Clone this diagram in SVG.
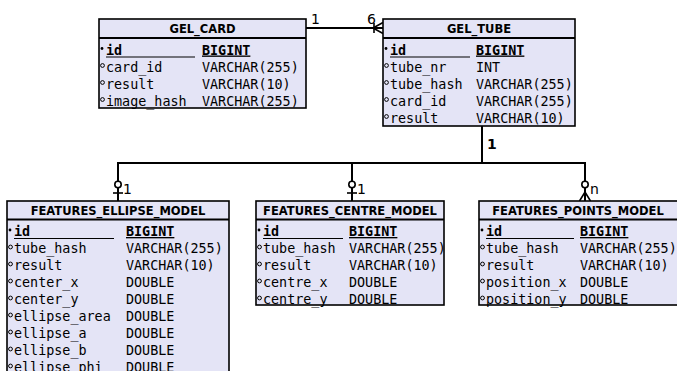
<svg xmlns="http://www.w3.org/2000/svg" width="677" height="371" viewBox="0 0 677 371">
<style>
.box{fill:#E4E4F6;stroke:#000;stroke-width:1.6}
.sep{stroke:#000;stroke-width:2}
.title{font-family:"DejaVu Sans",sans-serif;font-weight:bold;font-size:11.5px;text-anchor:middle;fill:#000}
.row{font-family:"DejaVu Sans Mono",monospace;font-size:13.4px;fill:#000}
.pk{font-weight:bold}
.ul{stroke:#000;stroke-width:1.2}
.pkm{fill:#000}
.fm{fill:none;stroke:#000;stroke-width:1}
.ln{stroke:#000;stroke-width:2;fill:none}
.sym{stroke:#000;stroke-width:1.6;fill:none}
.lbl{font-family:"DejaVu Sans",sans-serif;font-size:14px;fill:#000}
</style>
<g id="connectors">
  <line class="ln" x1="306" y1="28" x2="383" y2="28"/>
  <line class="sym" x1="374" y1="23" x2="374" y2="33"/>
  <polyline class="sym" points="383,22.5 373,28 383,33.5"/>
  <text class="lbl" x="311" y="24">1</text>
  <text class="lbl" x="367" y="24">6</text>
  <polyline class="ln" points="482,126 482,163 118,163 118,201"/>
  <line class="ln" x1="352" y1="163" x2="352" y2="201"/>
  <polyline class="ln" points="482,163 585,163 585,201"/>
  <text class="lbl" x="487" y="149" font-weight="bold">1</text>
  <circle cx="118" cy="184.5" r="3.2" fill="#fff" stroke="#000" stroke-width="1.6"/>
  <line class="sym" x1="113" y1="193" x2="123" y2="193"/>
  <text class="lbl" x="123" y="194">1</text>
  <circle cx="352" cy="184.5" r="3.2" fill="#fff" stroke="#000" stroke-width="1.6"/>
  <line class="sym" x1="347" y1="193" x2="357" y2="193"/>
  <text class="lbl" x="357" y="194">1</text>
  <circle cx="585" cy="184.5" r="3.2" fill="#fff" stroke="#000" stroke-width="1.6"/>
  <polyline class="sym" points="579.5,201 585,192 590.5,201"/>
  <text class="lbl" x="590" y="194">n</text>
</g>
<g id="gel_card">
  <rect class="box" x="99" y="19" width="207" height="89"/>
  <line class="sep" x1="99" y1="38" x2="306" y2="38"/>
  <text class="title" x="202.5" y="32.5">GEL_CARD</text>
  <circle class="pkm" cx="102" cy="48.5" r="1.4"/>
  <text class="row pk" x="106" y="54.5">id</text>
  <line class="ul" x1="106" y1="57" x2="195" y2="57"/>
  <text class="row pk" x="202" y="54.5" text-decoration="underline">BIGINT</text>
  <circle class="fm" cx="102.5" cy="65.5" r="1.9"/>
  <text class="row" x="106" y="71.5">card_id</text><text class="row" x="202" y="71.5">VARCHAR(255)</text>
  <circle class="fm" cx="102.5" cy="82.5" r="1.9"/>
  <text class="row" x="106" y="88.5">result</text><text class="row" x="202" y="88.5">VARCHAR(10)</text>
  <circle class="fm" cx="102.5" cy="99.5" r="1.9"/>
  <text class="row" x="106" y="105.5">image_hash</text><text class="row" x="202" y="105.5">VARCHAR(255)</text>
</g>
<g id="gel_tube">
  <rect class="box" x="383" y="19" width="192" height="107"/>
  <line class="sep" x1="383" y1="38" x2="575" y2="38"/>
  <text class="title" x="479" y="32.5">GEL_TUBE</text>
  <circle class="pkm" cx="386" cy="48.5" r="1.4"/>
  <text class="row pk" x="390" y="54.5">id</text>
  <line class="ul" x1="390" y1="57" x2="470" y2="57"/>
  <text class="row pk" x="476" y="54.5" text-decoration="underline">BIGINT</text>
  <circle class="fm" cx="386.5" cy="65.5" r="1.9"/>
  <text class="row" x="390" y="71.5">tube_nr</text><text class="row" x="476" y="71.5">INT</text>
  <circle class="fm" cx="386.5" cy="82.5" r="1.9"/>
  <text class="row" x="390" y="88.5">tube_hash</text><text class="row" x="476" y="88.5">VARCHAR(255)</text>
  <circle class="fm" cx="386.5" cy="99.5" r="1.9"/>
  <text class="row" x="390" y="105.5">card_id</text><text class="row" x="476" y="105.5">VARCHAR(255)</text>
  <circle class="fm" cx="386.5" cy="116.5" r="1.9"/>
  <text class="row" x="390" y="122.5">result</text><text class="row" x="476" y="122.5">VARCHAR(10)</text>
</g>
<g id="features_ellipse_model">
  <rect class="box" x="7" y="201" width="222" height="190"/>
  <line class="sep" x1="7" y1="219.5" x2="229" y2="219.5"/>
  <text class="title" x="118" y="214.5">FEATURES_ELLIPSE_MODEL</text>
  <circle class="pkm" cx="10" cy="230" r="1.4"/>
  <text class="row pk" x="14" y="236">id</text>
  <line class="ul" x1="14" y1="238.5" x2="114" y2="238.5"/>
  <text class="row pk" x="126" y="236" text-decoration="underline">BIGINT</text>
  <circle class="fm" cx="10.5" cy="247" r="1.9"/>
  <text class="row" x="14" y="253">tube_hash</text><text class="row" x="126" y="253">VARCHAR(255)</text>
  <circle class="fm" cx="10.5" cy="264" r="1.9"/>
  <text class="row" x="14" y="270">result</text><text class="row" x="126" y="270">VARCHAR(10)</text>
  <circle class="fm" cx="10.5" cy="281" r="1.9"/>
  <text class="row" x="14" y="287">center_x</text><text class="row" x="126" y="287">DOUBLE</text>
  <circle class="fm" cx="10.5" cy="298" r="1.9"/>
  <text class="row" x="14" y="304">center_y</text><text class="row" x="126" y="304">DOUBLE</text>
  <circle class="fm" cx="10.5" cy="315" r="1.9"/>
  <text class="row" x="14" y="321">ellipse_area</text><text class="row" x="126" y="321">DOUBLE</text>
  <circle class="fm" cx="10.5" cy="332" r="1.9"/>
  <text class="row" x="14" y="338">ellipse_a</text><text class="row" x="126" y="338">DOUBLE</text>
  <circle class="fm" cx="10.5" cy="349" r="1.9"/>
  <text class="row" x="14" y="355">ellipse_b</text><text class="row" x="126" y="355">DOUBLE</text>
  <circle class="fm" cx="10.5" cy="366" r="1.9"/>
  <text class="row" x="14" y="372">ellipse_phi</text><text class="row" x="126" y="372">DOUBLE</text>
</g>
<g id="features_centre_model">
  <rect class="box" x="256" y="201" width="188" height="104"/>
  <line class="sep" x1="256" y1="219.5" x2="444" y2="219.5"/>
  <text class="title" x="350" y="214.5">FEATURES_CENTRE_MODEL</text>
  <circle class="pkm" cx="259" cy="230" r="1.4"/>
  <text class="row pk" x="263" y="236">id</text>
  <line class="ul" x1="263" y1="238.5" x2="343" y2="238.5"/>
  <text class="row pk" x="349" y="236" text-decoration="underline">BIGINT</text>
  <circle class="fm" cx="259.5" cy="247" r="1.9"/>
  <text class="row" x="263" y="253">tube_hash</text><text class="row" x="349" y="253">VARCHAR(255)</text>
  <circle class="fm" cx="259.5" cy="264" r="1.9"/>
  <text class="row" x="263" y="270">result</text><text class="row" x="349" y="270">VARCHAR(10)</text>
  <circle class="fm" cx="259.5" cy="281" r="1.9"/>
  <text class="row" x="263" y="287">centre_x</text><text class="row" x="349" y="287">DOUBLE</text>
  <circle class="fm" cx="259.5" cy="298" r="1.9"/>
  <text class="row" x="263" y="304">centre_y</text><text class="row" x="349" y="304">DOUBLE</text>
</g>
<g id="features_points_model">
  <rect class="box" x="479" y="201" width="204" height="104"/>
  <line class="sep" x1="479" y1="219.5" x2="683" y2="219.5"/>
  <text class="title" x="578" y="214.5">FEATURES_POINTS_MODEL</text>
  <circle class="pkm" cx="482" cy="230" r="1.4"/>
  <text class="row pk" x="486" y="236">id</text>
  <line class="ul" x1="486" y1="238.5" x2="574" y2="238.5"/>
  <text class="row pk" x="580" y="236" text-decoration="underline">BIGINT</text>
  <circle class="fm" cx="482.5" cy="247" r="1.9"/>
  <text class="row" x="486" y="253">tube_hash</text><text class="row" x="580" y="253">VARCHAR(255)</text>
  <circle class="fm" cx="482.5" cy="264" r="1.9"/>
  <text class="row" x="486" y="270">result</text><text class="row" x="580" y="270">VARCHAR(10)</text>
  <circle class="fm" cx="482.5" cy="281" r="1.9"/>
  <text class="row" x="486" y="287">position_x</text><text class="row" x="580" y="287">DOUBLE</text>
  <circle class="fm" cx="482.5" cy="298" r="1.9"/>
  <text class="row" x="486" y="304">position_y</text><text class="row" x="580" y="304">DOUBLE</text>
</g>
</svg>
